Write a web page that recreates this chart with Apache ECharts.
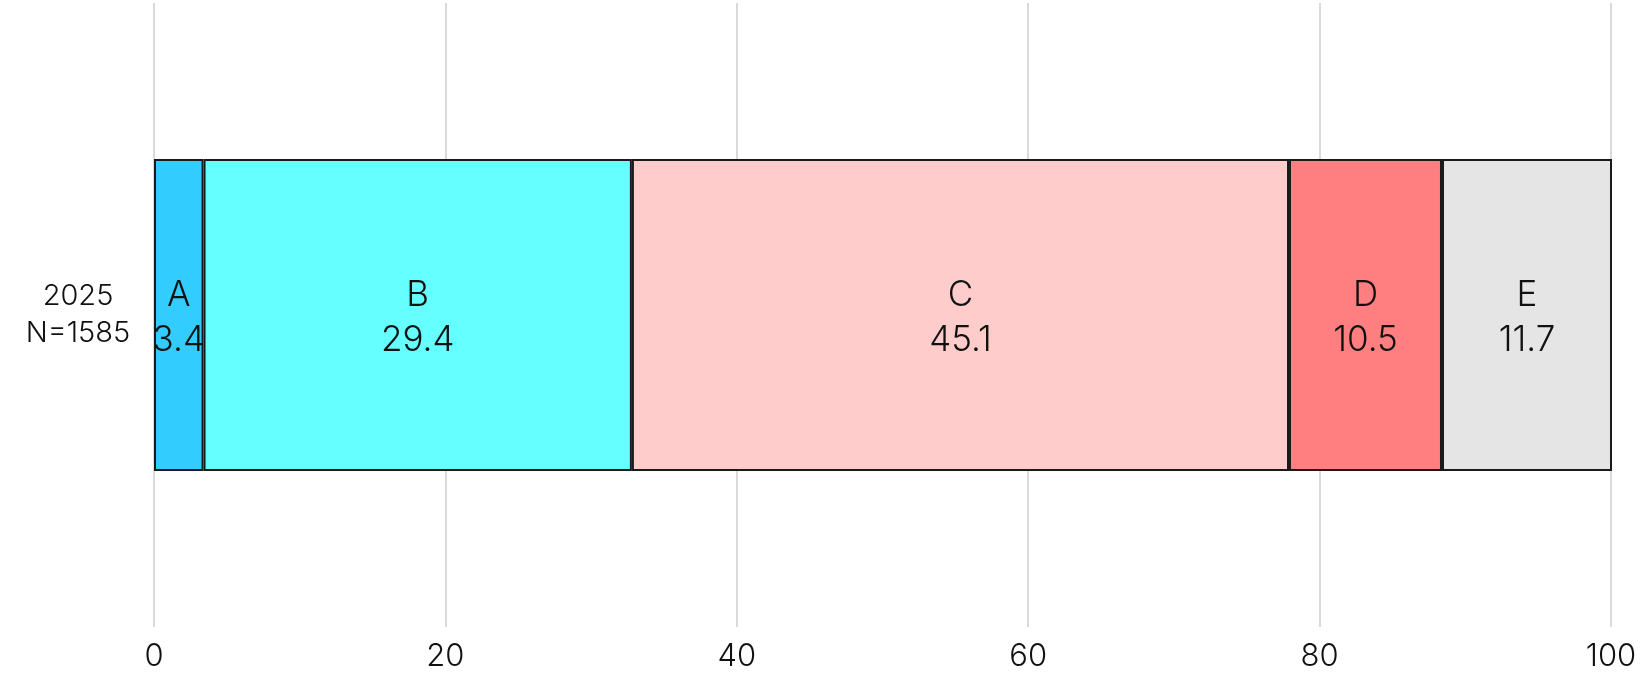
<!DOCTYPE html>
<html>
<head>
<meta charset="utf-8">
<script src="https://cdn.jsdelivr.net/npm/echarts@6/dist/echarts.min.js"></script>
<style>
  html, body { margin: 0; padding: 0; background: #fff; }
  #chart { width: 1644px; height: 673px; }
</style>
</head>
<body>
<div id="chart"></div>
<script>
  // row label and the five stacked segments
  const categories = ['2025\nN=1585']
  const segmentNames = ['A', 'B', 'C', 'D', 'E']
  const segmentValues = [3.4, 29.4, 45.1, 10.5, 11.7]
  const segmentColors = ['#33ccff', '#66ffff', '#fecccb', '#ff7f80', '#e5e5e5']
  const xTicks = [0, 20, 40, 60, 80, 100]

  const chart = echarts.init(document.getElementById('chart'))

  const series = segmentNames.map((name, i) => ({
    name: name,
    type: 'bar',
    stack: 'total',
    barWidth: '50%',
    data: [segmentValues[i]],
    itemStyle: {
      color: segmentColors[i],
      borderColor: '#1a1a1a',
      borderWidth: 2
    },
    label: {
      show: true,
      position: 'inside',
      offset: [0, 3],
      formatter: name + '\n' + segmentValues[i],
      fontFamily: 'Inter',
      fontWeight: 300,
      fontSize: 35,
      lineHeight: 45,
      color: '#111'
    },
    emphasis: { disabled: true }
  }))

  chart.setOption({
    animation: false,
    grid: {
      left: 154,
      right: 33,
      top: 3,
      bottom: 46,
      containLabel: false
    },
    xAxis: {
      type: 'value',
      min: xTicks[0],
      max: xTicks[xTicks.length - 1],
      interval: xTicks[1] - xTicks[0],
      axisLine: { show: false },
      axisTick: { show: false },
      splitLine: { show: true, lineStyle: { color: '#dadada', width: 2 } },
      axisLabel: {
        fontFamily: 'Inter',
        fontWeight: 300,
        fontSize: 31,
        color: '#111',
        margin: 14
      }
    },
    yAxis: {
      type: 'category',
      data: categories,
      axisLine: { show: false },
      axisTick: { show: false },
      axisLabel: {
        fontFamily: 'Inter',
        fontWeight: 300,
        fontSize: 29,
        lineHeight: 37,
        color: '#111',
        align: 'center',
        margin: 76
      }
    },
    series: series
  })
</script>
</body>
</html>
